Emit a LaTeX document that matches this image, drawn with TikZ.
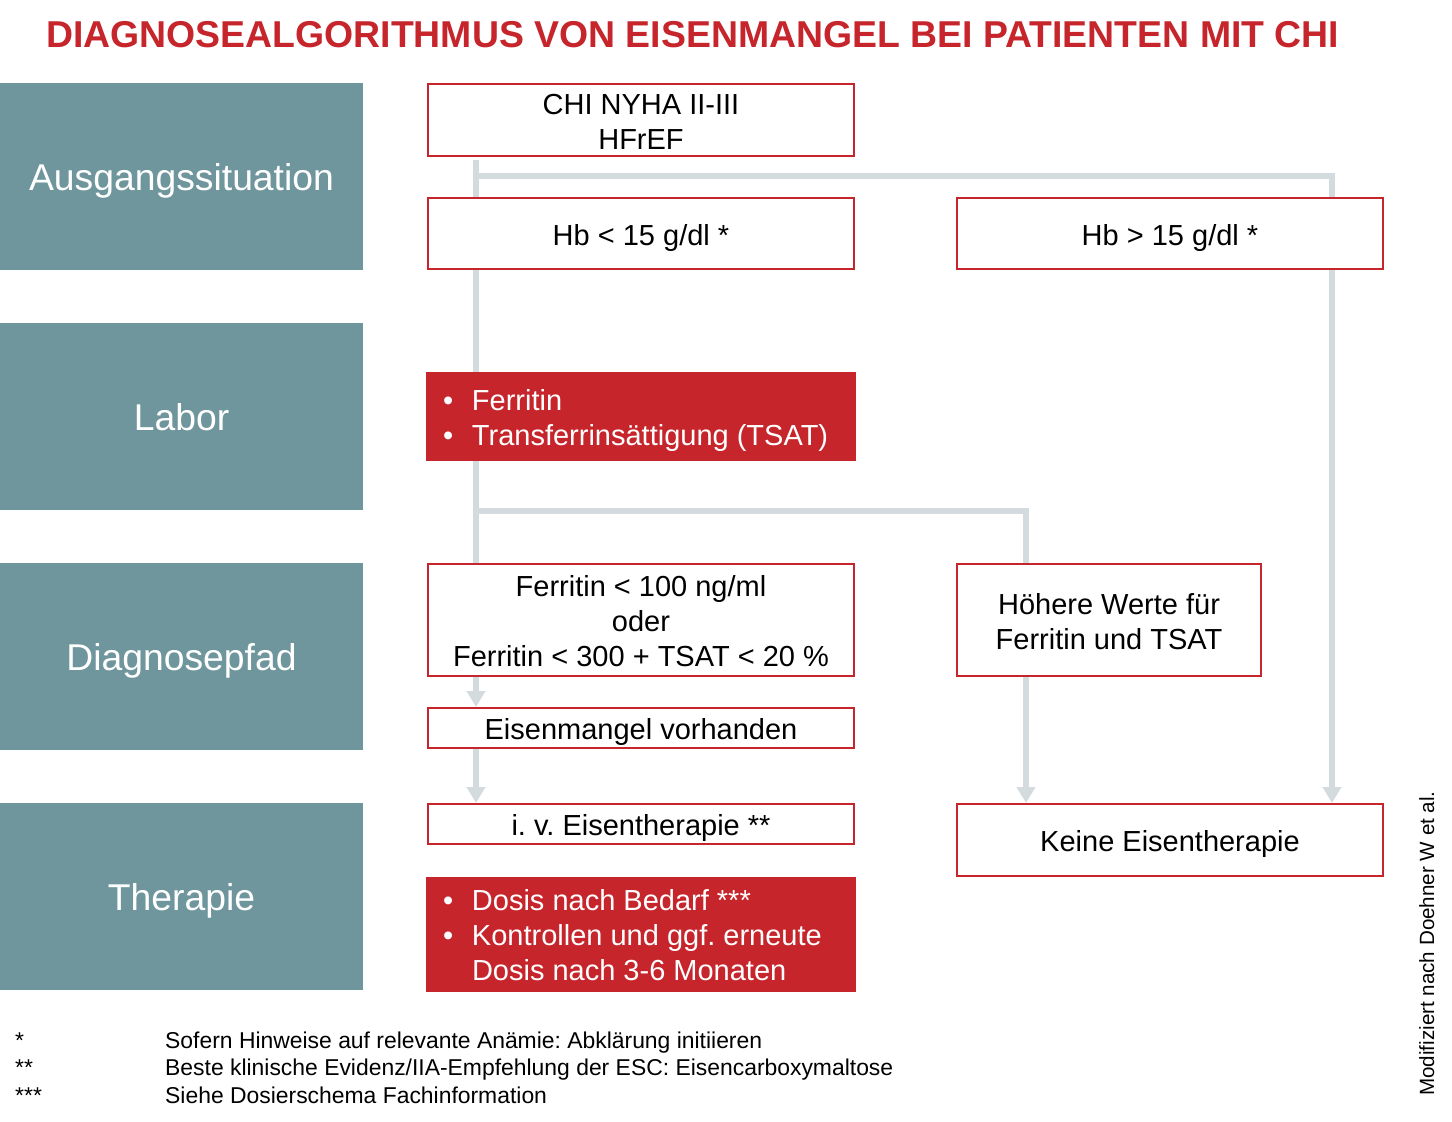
\documentclass[tikz,border=0pt]{standalone}
\usepackage{fontspec}
\setmainfont{Liberation Sans}
\usetikzlibrary{arrows.meta}
\definecolor{cred}{HTML}{C6252B}
\definecolor{cteal}{HTML}{6F969D}
\definecolor{cgray}{HTML}{D3DBDE}
\frenchspacing
\newcommand{\fsz}[2]{\fontsize{#1}{#2}\selectfont}
\newcommand{\bul}{\makebox[46pt][l]{\hspace{17pt}\textbullet}}
\newcommand{\bxc}[1]{\raisebox{-4.5pt}[\height][\depth]{\begin{tabular}{@{}c@{}}#1\end{tabular}}}
\newcommand{\bxl}[1]{\raisebox{-4.5pt}[\height][\depth]{\begin{tabular}{@{}l@{}}#1\end{tabular}}}
\begin{document}
\begin{tikzpicture}[x=1pt,y=-1pt,
  phase/.style={fill=cteal, text=white, minimum width=363pt, minimum height=187pt, inner sep=0, text depth=0pt, font=\fsz{37.3}{43}},
  wbox/.style={draw=cred, line width=2pt, fill=white, inner sep=0, align=center, font=\fsz{29}{35}},
  rbox/.style={fill=cred, inner sep=0, minimum width=430pt},
  btext/.style={text=white, inner sep=0, anchor=west, font=\fsz{29}{35}},
  conn/.style={draw=cgray, line width=6pt},
  arr/.style={conn, -{Triangle[width=18pt,length=16pt]}},
  note/.style={inner sep=0, anchor=base west, font=\fsz{22.9}{27}}]
\useasboundingbox (0,0) rectangle (1452,1122);

\node[inner sep=0, anchor=base west, text=cred, font=\fsz{37.4}{42}\bfseries] (title) at (46,47) {DIAGNOSEALGORITHMUS VON EISENMANGEL BEI PATIENTEN MIT CHI};

\node[phase] (p1) at (181.5,176.5) {Ausgangssituation};
\node[phase] (p2) at (181.5,416.5) {Labor};
\node[phase] (p3) at (181.5,656.5) {Diagnosepfad};
\node[phase] (p4) at (181.5,896.5) {Therapie};

\node[wbox, minimum width=426pt, minimum height=72pt] (chi) at (641,120) {\bxc{CHI NYHA II-III\\HFrEF}};
\node[wbox, minimum width=426pt, minimum height=71pt] (hbl) at (641,233.5) {\bxc{Hb < 15 g/dl *}};
\node[wbox, minimum width=426pt, minimum height=71pt] (hbr) at (1170,233.5) {\bxc{Hb > 15 g/dl *}};
\node[rbox, minimum height=89pt] (labor) at (641,416.5) {};
\node[btext] (labt) at (labor.west) {\bxl{\bul Ferritin\\\bul Transferrinsättigung (TSAT)}};
\node[wbox, minimum width=426pt, minimum height=112pt] (ferr) at (641,620) {\bxc{Ferritin < 100 ng/ml\\oder\\Ferritin < 300 + TSAT < 20 \%}};
\node[wbox, minimum width=304pt, minimum height=112pt] (hoeh) at (1109,620) {\bxc{Höhere Werte für\\Ferritin und TSAT}};
\node[wbox, minimum width=426pt, minimum height=40pt] (eis) at (641,728) {\bxc{Eisenmangel vorhanden}};
\node[wbox, minimum width=426pt, minimum height=40pt] (iv) at (641,824) {\bxc{i. v. Eisentherapie **}};
\node[wbox, minimum width=426pt, minimum height=72pt] (keine) at (1170,840) {\bxc{Keine Eisentherapie}};
\node[rbox, minimum height=115pt] (ther) at (641,934) {};
\node[btext] (thert) at (ther.west) {\bxl{\bul Dosis nach Bedarf ***\\\bul Kontrollen und ggf. erneute\\\hspace*{46pt}Dosis nach 3-6 Monaten}};

\coordinate (j1) at (476,176);
\coordinate (j2) at (1332,176);
\coordinate (j3) at (476,511);
\coordinate (j4) at (1026,511);

\draw[conn] ([yshift=-3pt]chi.south -| j1) -- (hbl.north -| j1);
\draw[conn] ([xshift=-3pt]j1) -- (j2) -- (hbr.north -| j2);
\draw[conn] (hbl.south -| j1) -- (labor.north -| j1);
\draw[conn] (labor.south -| j3) -- (ferr.north -| j3);
\draw[conn] ([xshift=-3pt]j3) -- (j4) -- (hoeh.north -| j4);
\draw[arr] (ferr.south -| j1) -- (eis.north -| j1);
\draw[arr] (eis.south -| j1) -- (iv.north -| j1);
\draw[arr] (hoeh.south -| j4) -- (keine.north -| j4);
\draw[arr] (hbr.south -| j2) -- (keine.north -| j2);

\node[note] (s1) at (15,1048) {*};
\node[note] (s2) at (15,1075) {**};
\node[note] (s3) at (15,1103) {***};
\node[note] (f1) at (165,1048) {Sofern Hinweise auf relevante Anämie: Abklärung initiieren};
\node[note] (f2) at (165,1075) {Beste klinische Evidenz/IIA-Empfehlung der ESC: Eisencarboxymaltose};
\node[note] (f3) at (165,1103) {Siehe Dosierschema Fachinformation};

\node[inner sep=0, rotate=90, anchor=base west, font=\fsz{20.6}{24}] (src) at (1434,1096) {Modifiziert nach Doehner W et al.};
\end{tikzpicture}
\end{document}
